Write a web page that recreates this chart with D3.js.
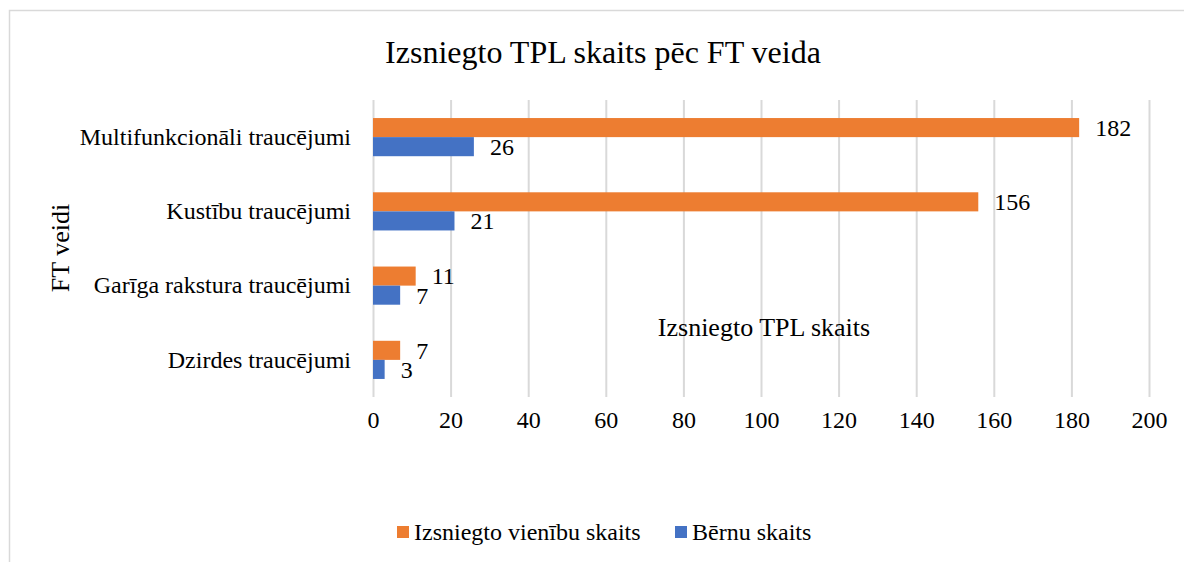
<!DOCTYPE html>
<html>
<head>
<meta charset="utf-8">
<script src="https://cdn.jsdelivr.net/npm/d3@7"></script>
<style>
  body { margin: 0; background: #fff; }
  svg text { font-family: "Liberation Serif", "Times New Roman", serif; fill: #000; }
</style>
</head>
<body>
<svg id="chart" width="1184" height="562"></svg>
<script>
const categories = ["Multifunkcionāli traucējumi", "Kustību traucējumi", "Garīga rakstura traucējumi", "Dzirdes traucējumi"];
const seriesNames = ["Izsniegto vienību skaits", "Bērnu skaits"];
const unitsIssued = [182, 156, 11, 7];
const childrenCount = [26, 21, 7, 3];
const xTicks = [0, 20, 40, 60, 80, 100, 120, 140, 160, 180, 200];
const colors = ["#ED7D31", "#4472C4"];

const width = 1184;
const height = 562;
const plotLeft = 373, plotRight = 1149, plotTop = 100, plotBottom = 397;
const serif = '"Liberation Serif", "Times New Roman", serif';

const svg = d3.select('#chart');

// outer frame
svg.append('rect')
  .attr('x', 9.5).attr('y', 10.5)
  .attr('width', width + 20).attr('height', height + 20)
  .attr('fill', 'none').attr('stroke', '#d9d9d9').attr('stroke-width', 1.5);

const xScale = d3.scaleLinear().domain([0, 200]).range([plotLeft, plotRight]);
const yScale = d3.scaleBand().domain(categories).range([plotTop, plotBottom]).paddingInner(0.486).paddingOuter(0.243);
const sub = d3.scaleBand().domain([0, 1]).range([0, yScale.bandwidth()]);

// gridlines
const xAxis = d3.axisBottom(xScale).tickValues(xTicks).tickSize(-(plotBottom - plotTop)).tickPadding(14);
const gx = svg.append('g')
  .attr('transform', `translate(0,${plotBottom})`)
  .call(xAxis);
gx.select('.domain').remove();
gx.selectAll('line').attr('stroke', '#d9d9d9').attr('stroke-width', 2);
gx.selectAll('text').style('font-size', '24px').style('font-family', serif);

// category labels
const yAxis = d3.axisLeft(yScale).tickSize(0).tickPadding(22);
const gy = svg.append('g')
  .attr('transform', `translate(${plotLeft},0)`)
  .call(yAxis);
gy.select('.domain').remove();
gy.selectAll('text').style('font-size', '24px').style('font-family', serif);

const rows = categories.map((c, i) => ({ c, vals: [unitsIssued[i], childrenCount[i]] }));

const groups = svg.append('g').selectAll('g')
  .data(rows).enter().append('g')
  .attr('transform', d => `translate(0,${yScale(d.c)})`);

groups.selectAll('rect')
  .data(d => d.vals.map((v, k) => ({ v, k })))
  .enter().append('rect')
  .attr('x', xScale(0))
  .attr('y', d => sub(d.k))
  .attr('width', d => xScale(d.v) - xScale(0))
  .attr('height', sub.bandwidth())
  .attr('fill', d => colors[d.k]);

groups.selectAll('text.val')
  .data(d => d.vals.map((v, k) => ({ v, k })))
  .enter().append('text')
  .attr('class', 'val')
  .attr('x', d => xScale(d.v) + 16)
  .attr('y', d => sub(d.k) + sub.bandwidth() / 2)
  .attr('dy', '0.35em')
  .style('font-size', '24px')
  .style('font-family', serif)
  .text(d => d.v);

// title
svg.append('text')
  .attr('x', 603).attr('y', 52)
  .attr('dy', '0.35em')
  .attr('text-anchor', 'middle')
  .style('font-size', '32px')
  .style('font-family', serif)
  .text('Izsniegto TPL skaits pēc FT veida');

// x axis title (sits inside the plot in the original)
svg.append('text')
  .attr('x', 764).attr('y', 327)
  .attr('dy', '0.35em')
  .attr('text-anchor', 'middle')
  .style('font-size', '26px')
  .style('font-family', serif)
  .text('Izsniegto TPL skaits');

// y axis title
svg.append('text')
  .attr('transform', 'translate(60,248) rotate(-90)')
  .attr('dy', '0.35em')
  .attr('text-anchor', 'middle')
  .style('font-size', '26px')
  .style('font-family', serif)
  .text('FT veidi');

// legend
const legendX = [397, 675];
const lg = svg.append('g').selectAll('g')
  .data(seriesNames).enter().append('g')
  .attr('transform', (d, i) => `translate(${legendX[i]},532)`);
lg.append('rect')
  .attr('x', 0).attr('y', -6)
  .attr('width', 12).attr('height', 12)
  .attr('fill', (d, i) => colors[i]);
lg.append('text')
  .attr('x', 17).attr('y', 0)
  .attr('dy', '0.35em')
  .style('font-size', '24px')
  .style('font-family', serif)
  .text(d => d);
</script>
</body>
</html>
